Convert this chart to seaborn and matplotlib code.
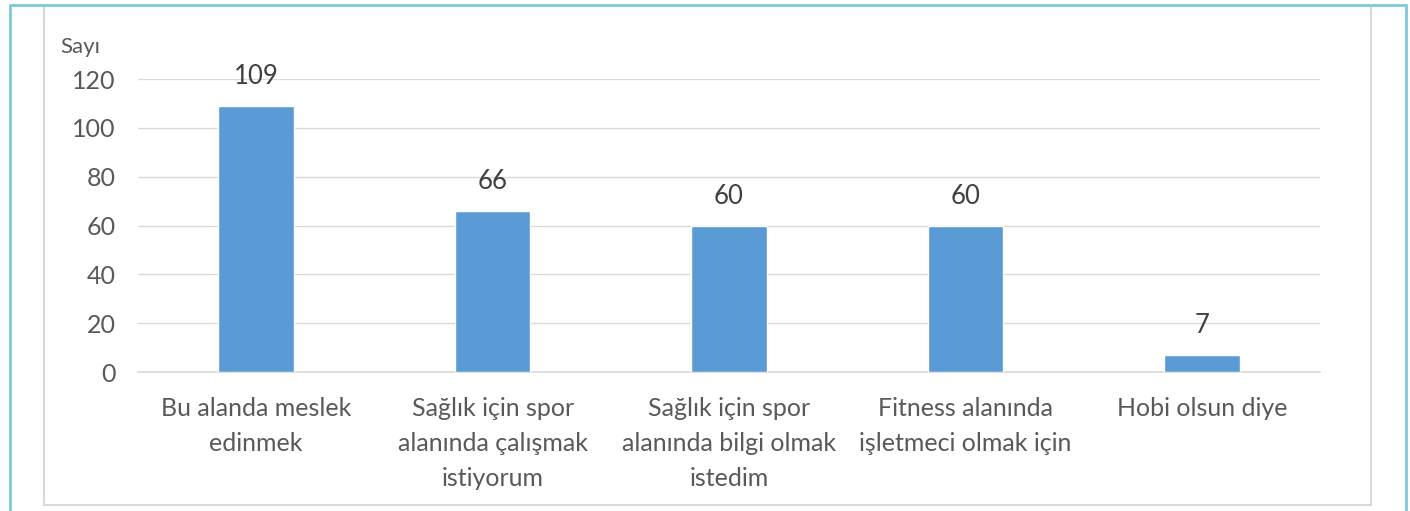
import matplotlib
matplotlib.use("Agg")
import matplotlib.pyplot as plt
import seaborn as sns
import pandas as pd
from matplotlib.patches import Rectangle
from matplotlib.lines import Line2D

categories = [
    "Bu alanda meslek\nedinmek",
    "Sağlık için spor\nalanında çalışmak\nistiyorum",
    "Sağlık için spor\nalanında bilgi olmak\nistedim",
    "Fitness alanında\nişletmeci olmak için",
    "Hobi olsun diye",
]
values = [109, 66, 60, 60, 7]
yticks = [0, 20, 40, 60, 80, 100, 120]
ylabel = "Sayı"

sns.set_theme(style="white")
plt.rcParams["font.family"] = ["Lato", "DejaVu Sans"]
TXT = "#595959"

W, H = 1410, 511
fig = plt.figure(figsize=(W / 100, H / 100), dpi=100)
fig.patch.set_facecolor("white")

# outer teal border (left, top, right) and inner gray frame
fig.add_artist(Line2D([9.5 / W, 9.5 / W], [0, 1 - 5 / H], color="#7fcad8", lw=2, transform=fig.transFigure))
fig.add_artist(Line2D([1406 / W, 1406 / W], [0, 1 - 5 / H], color="#7fcad8", lw=2, transform=fig.transFigure))
fig.add_artist(Line2D([9.5 / W, 1406 / W], [1 - 5 / H, 1 - 5 / H], color="#7fcad8", lw=2, transform=fig.transFigure))
fig.add_artist(Rectangle((44 / W, 1 - 505 / H), (1371 - 44) / W, (505 - 6) / H,
                         fill=False, edgecolor="#d9d9d9", lw=1.5, transform=fig.transFigure))

ax = fig.add_axes([138 / W, 1 - 372 / H, (1320 - 138) / W, (372 - 79) / H])
df = pd.DataFrame({"cat": categories, "val": values})
sns.barplot(data=df, x="cat", y="val", color="#5b9bd5", width=0.32, saturation=1,
            ax=ax, zorder=3)

ax.set_ylim(0, 120)
ax.set_xlim(-0.5, len(categories) - 0.5)
ax.set_yticks(yticks)
ax.yaxis.grid(True, color="#d9d9d9", lw=1)
ax.set_axisbelow(True)
for s in ["top", "right", "left"]:
    ax.spines[s].set_visible(False)
ax.spines["bottom"].set_color("#d9d9d9")
ax.spines["bottom"].set_linewidth(1.2)
ax.tick_params(axis="both", length=0, colors=TXT, labelsize=18)
ax.tick_params(axis="y", pad=16)
ax.tick_params(axis="x", pad=18)
for lbl in ax.get_xticklabels():
    lbl.set_linespacing(1.62)
ax.set_xlabel("")
ax.set_ylabel("")

for i, v in enumerate(values):
    ax.annotate(str(v), (i, v), xytext=(0, 21), textcoords="offset points",
                ha="center", va="center", fontsize=18.5, color="#404040")

fig.text(60 / W, 1 - 47 / H, ylabel, ha="left", va="center", fontsize=16, color=TXT)

fig.savefig("out.png", dpi=100, facecolor="white")
